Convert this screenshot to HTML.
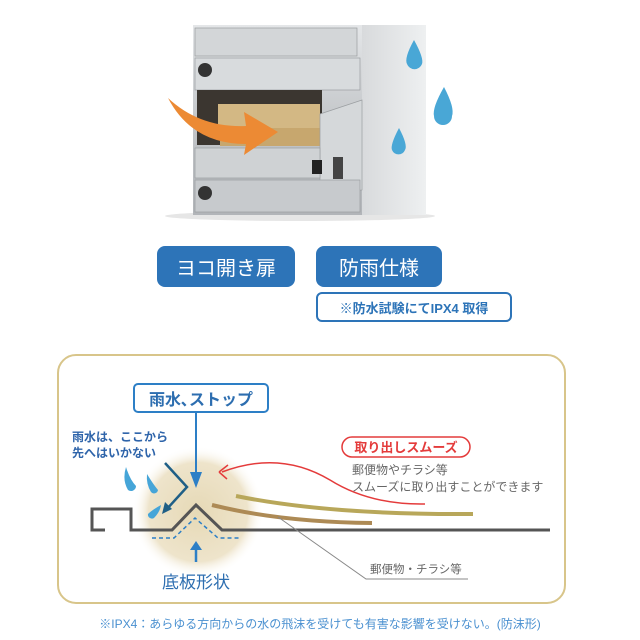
<!DOCTYPE html>
<html><head><meta charset="utf-8"><style>
html,body{margin:0;padding:0;background:#fff;}
svg{display:block;font-family:"Liberation Sans","Noto Sans CJK JP",sans-serif;}
</style></head><body>
<svg width="640" height="640" viewBox="0 0 640 640" xmlns="http://www.w3.org/2000/svg">
<defs>
<linearGradient id="met" x1="0" y1="0" x2="0" y2="1">
<stop offset="0" stop-color="#e4e6e8"/><stop offset="0.5" stop-color="#c4c7ca"/><stop offset="1" stop-color="#b2b5b9"/></linearGradient>
<linearGradient id="side" x1="0" y1="0" x2="1" y2="0">
<stop offset="0" stop-color="#d8dadc"/><stop offset="1" stop-color="#eef0f1"/></linearGradient>
<radialGradient id="glow"><stop offset="0" stop-color="#e6d9b6"/><stop offset="0.75" stop-color="#eee4cb"/><stop offset="1" stop-color="#fff" stop-opacity="0"/></radialGradient>
<marker id="ab" markerWidth="8" markerHeight="8" refX="4" refY="4" orient="auto"><path d="M0,1 L8,4 L0,7 Z" fill="#2d7fc6"/></marker>
</defs>
<!-- mailbox -->
<ellipse cx="300" cy="216" rx="135" ry="5" fill="#e6e6e6"/>
<rect x="362" y="25" width="64" height="190" fill="url(#side)"/>
<rect x="193" y="25" width="169" height="190" fill="url(#met)"/>
<rect x="195" y="28" width="162" height="28" fill="#d3d6d8" stroke="#9a9da0" stroke-width="0.7"/>
<rect x="195" y="58" width="165" height="32" fill="#d8dbdd" stroke="#9a9da0" stroke-width="0.7"/>
<rect x="197" y="90" width="125" height="55" fill="#3b3630"/>
<rect x="218" y="104" width="102" height="24" fill="#d3b884"/>
<rect x="220" y="128" width="100" height="18" fill="#c7a76e"/>
<polygon points="320,114 362,100 362,190 320,195" fill="#d5d8da" stroke="#9a9da0" stroke-width="0.7"/>
<rect x="195" y="148" width="125" height="30" fill="#cfd2d4" stroke="#9a9da0" stroke-width="0.7"/>
<rect x="195" y="180" width="165" height="32" fill="#c7cacd" stroke="#9a9da0" stroke-width="0.7"/>
<circle cx="205" cy="70" r="7" fill="#333"/><circle cx="205" cy="193" r="7" fill="#333"/>
<rect x="312" y="160" width="10" height="14" fill="#222"/><rect x="333" y="157" width="10" height="22" fill="#444"/>
<path d="M168,98 Q200,128 246,126 L244,112 L278,132 L244,155 L246,144 Q192,144 168,98 Z" fill="#ec8a34"/>
<g fill="#49a7d6">
<path d="M414,40 Q404,58 407,64 A8,8 0 0 0 422,64 Q424,58 414,40Z"/>
<path d="M444,87 Q432,108 434,116 A9,9 0 0 0 452,116 Q455,108 444,87Z"/>
<path d="M399,128 Q390,145 392,150 A7,7 0 0 0 405,150 Q408,145 399,128Z"/>
</g>
<!-- buttons -->
<rect x="157" y="246" width="138" height="41" rx="8" fill="#2d74b8"/>
<text x="226" y="275" font-size="20" fill="#fff" text-anchor="middle">ヨコ開き扉</text>
<rect x="316" y="246" width="126" height="41" rx="8" fill="#2d74b8"/>
<text x="379" y="275" font-size="20" fill="#fff" text-anchor="middle">防雨仕様</text>
<rect x="317" y="293" width="194" height="28" rx="5" fill="#fff" stroke="#2d74b8" stroke-width="2"/>
<text x="414" y="313" font-size="13" fill="#2d74b8" text-anchor="middle" font-weight="bold">※防水試験にてIPX4 取得</text>
<!-- diagram box -->
<rect x="58" y="355" width="507" height="248" rx="18" fill="#fff" stroke="#d8c58a" stroke-width="2"/>
<circle cx="198" cy="512" r="66" fill="url(#glow)"/>
<rect x="134" y="384" width="134" height="28" rx="4" fill="#fff" stroke="#2d7fc6" stroke-width="2"/>
<text x="201" y="405" font-size="16" fill="#2d6eb0" text-anchor="middle" font-weight="bold">雨水､ストップ</text>
<line x1="196" y1="412" x2="196" y2="480" stroke="#2d7fc6" stroke-width="2" marker-end="url(#ab)"/>
<text x="72" y="441" font-size="12" fill="#2e64aa" font-weight="bold">雨水は、ここから</text>
<text x="72" y="457" font-size="12" fill="#2e64aa" font-weight="bold">先へはいかない</text>
<g fill="#46a5d8">
<path d="M126,467 Q130,480 136,486 A5,5 0 0 1 128,490 Q122,480 126,467Z"/>
<path d="M147,474 Q153,484 158,490 A4,4 0 0 1 151,492 Q146,484 147,474Z"/>
<path d="M161,505 Q152,510 148,514 A4,4 0 0 0 154,518 Q160,512 161,505Z"/>
</g>
<polyline points="165,463 187,487 166,510" fill="none" stroke="#1f5f86" stroke-width="2.5"/>
<path d="M162,514 L165,502 L172,509 Z" fill="#1f5f86"/>
<polyline points="105,530 92,530 92,509 131,509 131,530 172,530 196,505 222,530 550,530" fill="none" stroke="#555" stroke-width="3"/>
<polyline points="152,538 174,538 195,518 218,538 240,538" fill="none" stroke="#2d7fc6" stroke-width="1.5" stroke-dasharray="4,3"/>
<line x1="196" y1="562" x2="196" y2="548" stroke="#2d7fc6" stroke-width="2.5"/>
<path d="M190,550 L196,541 L202,550Z" fill="#2d7fc6"/>
<text x="196" y="588" font-size="17" fill="#2d6eb0" text-anchor="middle">底板形状</text>
<path d="M236,496 Q330,515 473,514" fill="none" stroke="#b8a75a" stroke-width="4"/>
<path d="M212,505 Q280,522 372,523" fill="none" stroke="#ad8a55" stroke-width="4"/>
<path d="M425,504 Q370,505 330,480 Q280,450 222,472" fill="none" stroke="#e43b3b" stroke-width="1.5"/>
<path d="M219,472 L228,465 M219,472 L227,479" stroke="#e43b3b" stroke-width="1.5"/>
<rect x="342" y="437" width="128" height="20" rx="10" fill="#fff" stroke="#e43b3b" stroke-width="1.5"/>
<text x="406" y="452" font-size="13" fill="#e43b3b" text-anchor="middle" font-weight="bold">取り出しスムーズ</text>
<text x="352" y="474" font-size="12" fill="#666">郵便物やチラシ等</text>
<text x="352" y="491" font-size="12" fill="#666">スムーズに取り出すことができます</text>
<polyline points="278,517 366,579 468,579" fill="none" stroke="#888" stroke-width="1"/>
<text x="370" y="573" font-size="11.5" fill="#666">郵便物・チラシ等</text>
<text x="320" y="628" font-size="12" fill="#4a90d0" text-anchor="middle">※IPX4：あらゆる方向からの水の飛沫を受けても有害な影響を受けない。(防沫形)</text>
</svg>
</body></html>
